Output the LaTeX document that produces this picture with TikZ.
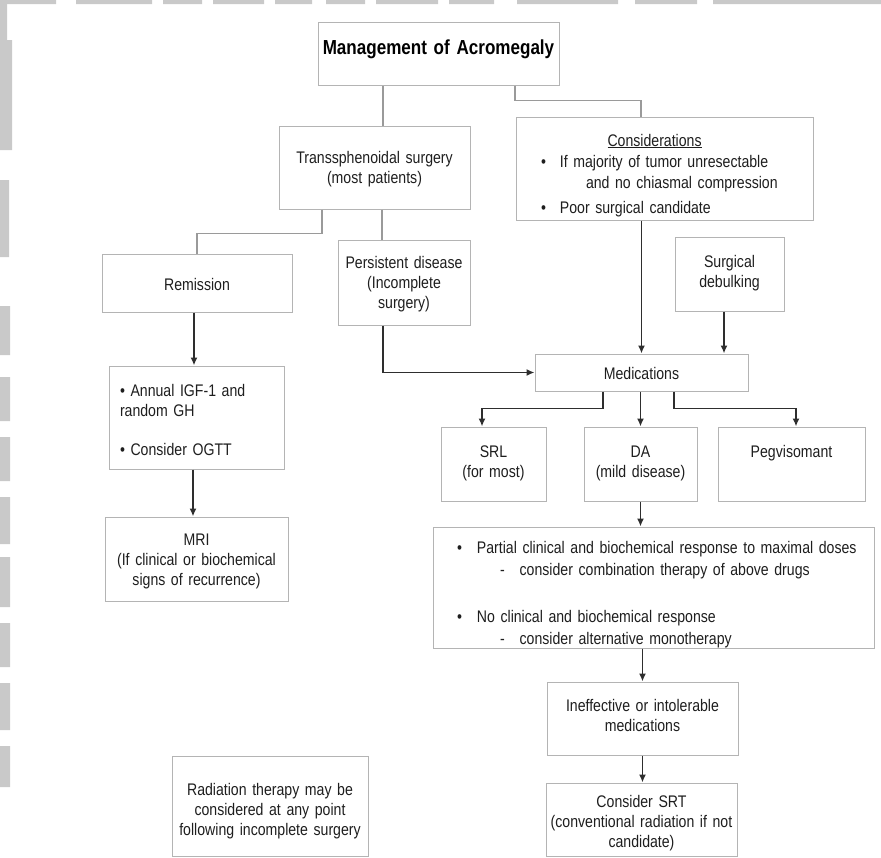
\documentclass[tikz,border=0pt]{standalone}
\usepackage{fontspec}
\setmainfont{Liberation Sans}[FakeStretch=0.84]
\usepackage{tikz}
\usetikzlibrary{arrows.meta}

\definecolor{boxgray}{HTML}{B4B4B4}
\definecolor{linkgray}{HTML}{9A9A9A}
\definecolor{arrowgray}{HTML}{2E2E2E}
\definecolor{textgray}{HTML}{1E1E1E}
\definecolor{wmgray}{HTML}{C9C9C9}

\newcommand{\nodefont}{\fontsize{16.8}{20}\selectfont}
\newcommand{\titlefont}{\fontsize{20.3}{24}\selectfont\bfseries}

\tikzset{
  box/.style={draw=boxgray, line width=1pt, rectangle, inner sep=0pt,
    align=center, font=\nodefont, text=textgray},
  listbox/.style={box, align=left},
  link/.style={draw=linkgray, line width=1.1pt},
  arr/.style={draw=arrowgray, line width=1.6pt, -{Latex[length=8pt,width=7pt]}}
}

\begin{document}
\begin{tikzpicture}[x=1pt,y=-1pt]
    \useasboundingbox (0,0) rectangle (881,857);

    % Faded marks along the top and left edge
    \fill[wmgray] (0,0) rectangle (56,4) (76,0) rectangle (152,4)
    (163,0) rectangle (202,4) (213,0) rectangle (264,4)
    (275,0) rectangle (312,4) (326,0) rectangle (365,4)
    (376,0) rectangle (438,4) (449,0) rectangle (494,4)
    (517,0) rectangle (618,4) (635,0) rectangle (697,4)
    (713,0) rectangle (881,4);
    \fill[wmgray] (0,0) rectangle (7,104) (0,40) rectangle (12,150)
    (0,180) rectangle (9,257) (0,306) rectangle (10,355)
    (0,377) rectangle (10,421) (0,437) rectangle (10,481)
    (0,497) rectangle (10,544) (0,557) rectangle (10,607)
    (0,623) rectangle (10,667) (0,683) rectangle (10,730)
    (0,746) rectangle (10,787);

    % Title of the chart
    \node [box,
    text width=241pt,
    text height=32pt,
    text depth=31pt,
    text=black,
    font=\titlefont] (title) at (438.5,53.5) {Management of Acromegaly};

    % First line treatment
    \node [box,
    text width=191pt,
    text height=37pt,
    text depth=46pt] (trans) at (374.5,167.5)
    {Transsphenoidal surgery\\(most patients)};

    % When surgery is not the first choice
    \node [listbox,
    inner xsep=25pt,
    text width=247pt,
    text height=29pt,
    text depth=74pt] (cons) at (664.5,168.5)
    {\hspace*{66.5pt}\underline{Considerations}\\[1pt]
    \textbullet\hspace{14pt}If majority of tumor unresectable\\[1pt]
    \hspace*{45pt}and no chiasmal compression\\[5pt]
    \textbullet\hspace{14pt}Poor surgical candidate};

    % Outcomes of surgery
    \node [box,
    text width=190pt,
    text height=36pt,
    text depth=22pt] (rem) at (197,283) {Remission};

    \node [box,
    text width=132pt,
    text height=28pt,
    text depth=57pt] (pers) at (404,282.5)
    {Persistent disease\\(Incomplete\\surgery)};

    \node [box,
    text width=109pt,
    text height=30pt,
    text depth=44pt] (deb) at (729.5,274) {Surgical\\debulking};

    % Medical therapy
    \node [box,
    text width=213pt,
    text height=25pt,
    text depth=12pt] (med) at (641.5,372.5) {Medications};

    % Follow-up in remission
    \node [listbox,
    inner xsep=11pt,
    text width=153pt,
    text height=30pt,
    text depth=73pt] (ann) at (196.5,417.5)
    {\textbullet\ Annual IGF-1 and\\
    random GH\\[19pt]
    \textbullet\ Consider OGTT};

    \node [box,
    text width=183pt,
    text height=28pt,
    text depth=56pt] (mri) at (196.5,559)
    {MRI\\(If clinical or biochemical\\signs of recurrence)};

    % Drug classes
    \node [box,
    text width=105pt,
    text height=30pt,
    text depth=44pt] (srl) at (493.5,464) {SRL\\(for most)};

    \node [box,
    text width=113pt,
    text height=30pt,
    text depth=44pt] (da) at (640.5,464) {DA\\(mild disease)};

    \node [box,
    text width=147pt,
    text height=30pt,
    text depth=44pt] (peg) at (791.5,464) {Pegvisomant};

    % Response to drugs
    \node [listbox,
    inner xsep=24pt,
    text width=393pt,
    text height=26pt,
    text depth=95pt] (resp) at (653.5,587.5)
    {\mbox{\textbullet\hspace{15pt}Partial clinical and biochemical response to maximal doses}\\[2pt]
    \hspace*{43pt}-\hspace{15pt}consider combination therapy of above drugs\\[27pt]
    \textbullet\hspace{15pt}No clinical and biochemical response\\[2pt]
    \hspace*{43pt}-\hspace{15pt}consider alternative monotherapy};

    \node [box,
    text width=191pt,
    text height=29pt,
    text depth=44pt] (ineff) at (642.5,718.5)
    {Ineffective or intolerable\\medications};

    \node [box,
    text width=191pt,
    text height=24pt,
    text depth=49pt] (srt) at (641.5,819.5)
    {Consider SRT\\(conventional radiation if not\\candidate)};

    % Side note
    \node [box,
    text width=196pt,
    text height=39pt,
    text depth=61pt] (rad) at (270,806)
    {Radiation therapy may be\\considered at any point\\following incomplete surgery};

    % Plain links
    \draw[link] ([xshift=8.5pt]trans.north) -- ([xshift=8.5pt]trans.north |- title.south);
    \draw[link] ([xshift=76.5pt]title.south) -- ++(0,15) -| ([xshift=-23.5pt]cons.north);
    \draw[link] ([xshift=-52.5pt]trans.south) -- ++(0,24) -| (rem.north);
    \draw[link] ([xshift=7.5pt]trans.south) -- ([xshift=7.5pt]trans.south |- pers.north);

    % Arrows
    \draw[arr] ([xshift=-21pt]pers.south) |- (med.west);
    \draw[arr] (cons.south -| med.north) -- (med.north);
    \draw[arr] ([xshift=-5.5pt]deb.south) -- ([xshift=-5.5pt]deb.south |- med.north);
    \draw[arr] ([xshift=-38.5pt]med.south) -- ++(0,17) -| ([xshift=-11.5pt]srl.north);
    \draw[arr] (med.south -| da.north) -- (da.north);
    \draw[arr] ([xshift=32.5pt]med.south) -- ++(0,17) -| ([xshift=4.5pt]peg.north);
    \draw[arr] (da.south) -- (da.south |- resp.north);
    \draw[arr] (ineff.north |- resp.south) -- (ineff.north);
    \draw[arr] (ineff.south) -- (ineff.south |- srt.north);
    \draw[arr] ([xshift=-3pt]rem.south) -- ([xshift=-3pt]rem.south |- ann.north);
    \draw[arr] ([xshift=-3.5pt]ann.south) -- ([xshift=-3.5pt]ann.south |- mri.north);
\end{tikzpicture}
\end{document}
